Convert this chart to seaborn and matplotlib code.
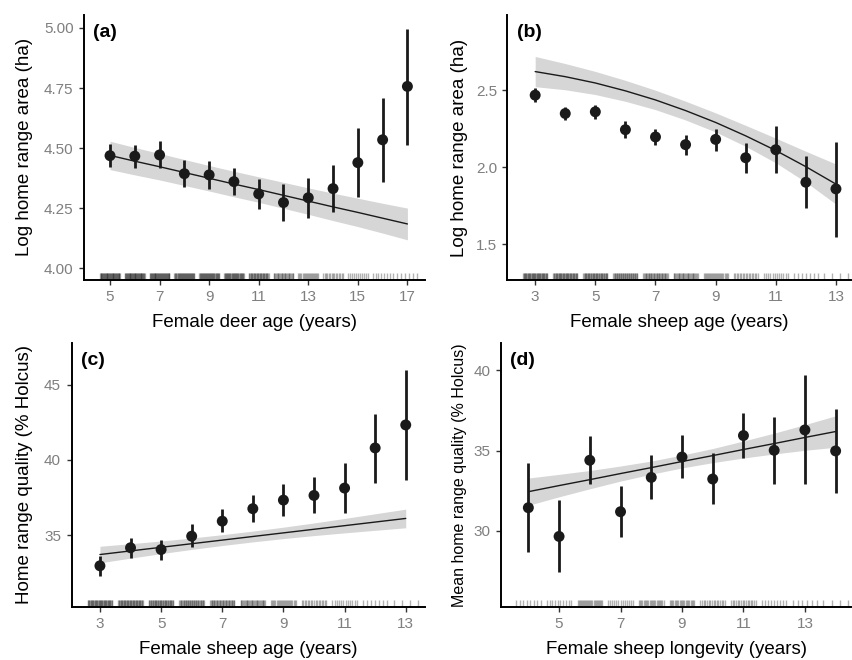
import numpy as np
import pandas as pd
import matplotlib
matplotlib.use("Agg")
import matplotlib.pyplot as plt
import seaborn as sns

# ---------------- data ----------------
# (a) deer age vs log home range area
age_a = [5, 6, 7, 8, 9, 10, 11, 12, 13, 14, 15, 16, 17]
mean_a = [4.469, 4.467, 4.472, 4.394, 4.389, 4.361, 4.310, 4.274, 4.294, 4.332, 4.440, 4.535, 4.757]
lo_a = [4.421, 4.417, 4.417, 4.338, 4.331, 4.306, 4.246, 4.196, 4.208, 4.233, 4.299, 4.358, 4.515]
hi_a = [4.518, 4.514, 4.528, 4.449, 4.447, 4.418, 4.372, 4.350, 4.376, 4.431, 4.582, 4.710, 4.997]
fit_a = [4.470, 4.446, 4.423, 4.399, 4.375, 4.351, 4.328, 4.304, 4.280, 4.256, 4.233, 4.209, 4.185]
se_a = [0.059, 0.057, 0.055, 0.054, 0.053, 0.053, 0.053, 0.054, 0.055, 0.057, 0.059, 0.062, 0.066]
rug_n_a = [44, 44, 42, 40, 40, 38, 34, 26, 20, 15, 11, 8, 6]

# (b) sheep age vs log home range area
age_b = [3, 4, 5, 6, 7, 8, 9, 10, 11, 12, 13]
mean_b = [2.467, 2.348, 2.359, 2.243, 2.196, 2.146, 2.180, 2.061, 2.113, 1.902, 1.859]
lo_b = [2.424, 2.304, 2.315, 2.189, 2.141, 2.076, 2.104, 1.961, 1.961, 1.733, 1.550]
hi_b = [2.511, 2.391, 2.402, 2.298, 2.250, 2.211, 2.250, 2.159, 2.265, 2.070, 2.163]
fit_b = [2.620, 2.587, 2.546, 2.495, 2.436, 2.367, 2.290, 2.203, 2.108, 2.003, 1.890]
se_b = [0.098, 0.085, 0.075, 0.068, 0.063, 0.061, 0.062, 0.068, 0.080, 0.100, 0.130]
rug_n_b = [44, 42, 40, 37, 34, 30, 24, 17, 12, 7, 4]

# (c) sheep age vs home range quality
age_c = [3, 4, 5, 6, 7, 8, 9, 10, 11, 12, 13]
mean_c = [32.96, 34.16, 34.04, 34.93, 35.93, 36.76, 37.33, 37.64, 38.13, 40.80, 42.33]
lo_c = [32.27, 33.49, 33.33, 34.22, 35.18, 35.87, 36.29, 36.49, 36.44, 38.49, 38.67]
hi_c = [33.60, 34.78, 34.67, 35.73, 36.73, 37.64, 38.40, 38.89, 39.78, 43.04, 46.00]
fit_c = [33.71, 33.95, 34.19, 34.43, 34.67, 34.91, 35.15, 35.39, 35.63, 35.87, 36.11]
se_c = [0.55, 0.48, 0.42, 0.38, 0.36, 0.36, 0.38, 0.42, 0.48, 0.55, 0.62]
rug_n_c = [44, 42, 40, 37, 34, 30, 24, 17, 12, 7, 4]

# (d) sheep longevity vs mean home range quality
age_d = [4, 5, 6, 7, 8, 9, 10, 11, 12, 13, 14]
mean_d = [31.44, 29.65, 34.40, 31.19, 33.33, 34.60, 33.23, 35.94, 35.02, 36.29, 34.98]
lo_d = [28.69, 27.44, 32.90, 29.63, 31.98, 33.31, 31.67, 34.52, 32.92, 32.92, 32.38]
hi_d = [34.21, 31.92, 35.92, 32.79, 34.73, 35.98, 34.83, 37.35, 37.08, 39.73, 37.60]
fit_d = [32.44, 32.82, 33.19, 33.57, 33.94, 34.32, 34.69, 35.07, 35.44, 35.82, 36.19]
se_d = [0.85, 0.70, 0.57, 0.47, 0.41, 0.40, 0.44, 0.53, 0.65, 0.80, 0.98]
rug_n_d = [8, 10, 24, 13, 22, 21, 16, 16, 9, 6, 4]

xlabels = ["Female deer age (years)", "Female sheep age (years)",
           "Female sheep age (years)", "Female sheep longevity (years)"]
ylabels = ["Log home range area (ha)", "Log home range area (ha)",
           "Home range quality (% Holcus)", "Mean home range quality (% Holcus)"]
panel_tags = ["(a)", "(b)", "(c)", "(d)"]
xticks = [[5, 7, 9, 11, 13, 15, 17], [3, 5, 7, 9, 11, 13], [3, 5, 7, 9, 11, 13], [5, 7, 9, 11, 13]]
yticks = [[4.00, 4.25, 4.50, 4.75, 5.00], [1.5, 2.0, 2.5], [35, 40, 45], [30, 35, 40]]
yfmt = ["{:.2f}", "{:.1f}", "{:.0f}", "{:.0f}"]

# ---------------- style ----------------
sns.set_theme(style="ticks")
plt.rcParams['font.family'] = ['Liberation Sans', 'DejaVu Sans']

fig = plt.figure(figsize=(8.52, 6.6), dpi=100)
W, H = 852, 660
boxes = [  # left, right, top, bottom in pixels
    (84, 425, 15, 279.5),
    (507.5, 851, 15, 280),
    (71.5, 425, 343, 607),
    (501, 851, 343, 607),
]
xlims = [(3.95, 17.71), (2.08, 13.5), (2.07, 13.63), (3.11, 14.5)]
ylims = [(3.954, 5.054), (1.268, 2.987), (30.22, 47.78), (25.25, 41.71)]
ylabel_size = [13.5, 13.5, 13.5, 11.5]
ylabel_pad = [8, 6, 8, 5]

datasets = [
    (age_a, mean_a, lo_a, hi_a, fit_a, se_a, rug_n_a),
    (age_b, mean_b, lo_b, hi_b, fit_b, se_b, rug_n_b),
    (age_c, mean_c, lo_c, hi_c, fit_c, se_c, rug_n_c),
    (age_d, mean_d, lo_d, hi_d, fit_d, se_d, rug_n_d),
]

for i, (age, mean, lo, hi, fit, se, rugn) in enumerate(datasets):
    l, r, t, b = boxes[i]
    ax = fig.add_axes([l / W, 1 - b / H, (r - l) / W, (b - t) / H])
    df = pd.DataFrame({"age": age, "mean": mean, "lo": lo, "hi": hi,
                       "fit": fit, "se": se})
    # confidence band
    ax.fill_between(df["age"], df["fit"] - df["se"], df["fit"] + df["se"],
                    color="#d6d6d6", lw=0, zorder=1)
    sns.lineplot(data=df, x="age", y="fit", ax=ax, color="#1a1a1a", lw=1.0, zorder=2)
    # rug of raw observations (jittered positions within each age)
    rug_x = []
    for a, n in zip(age, rugn):
        rug_x.extend(list(a + np.linspace(-0.4, 0.4, n)))
    sns.rugplot(x=rug_x, ax=ax, height=0.026, color="black", alpha=0.3, lw=1.0,
                clip_on=False, zorder=1)
    # error bars and means
    ax.vlines(df["age"], df["lo"], df["hi"], color="#1a1a1a", lw=2.0, zorder=3)
    sns.scatterplot(data=df, x="age", y="mean", ax=ax, color="#1a1a1a", s=62,
                    edgecolor="none", zorder=4)

    ax.set_xlim(*xlims[i])
    ax.set_ylim(*ylims[i])
    ax.set_xticks(xticks[i])
    ax.set_yticks(yticks[i])
    ax.set_yticklabels([yfmt[i].format(v) for v in yticks[i]])
    ax.set_xlabel(xlabels[i], fontsize=13.5, color="black", labelpad=7)
    ax.set_ylabel(ylabels[i], fontsize=ylabel_size[i], color="black", labelpad=ylabel_pad[i])
    ax.tick_params(axis="both", labelsize=11, labelcolor="#7f7f7f", color="#333333",
                   length=3.5, width=1.0, pad=4)
    for s in ["top", "right"]:
        ax.spines[s].set_visible(False)
    for s in ["left", "bottom"]:
        ax.spines[s].set_linewidth(1.4)
        ax.spines[s].set_color("black")
    ax.annotate(panel_tags[i], xy=(0, 1), xycoords="axes fraction",
                xytext=(9, -9), textcoords="offset pixels", ha="left", va="top",
                fontsize=14, fontweight="bold", color="black")

fig.savefig("out.png", dpi=100)
